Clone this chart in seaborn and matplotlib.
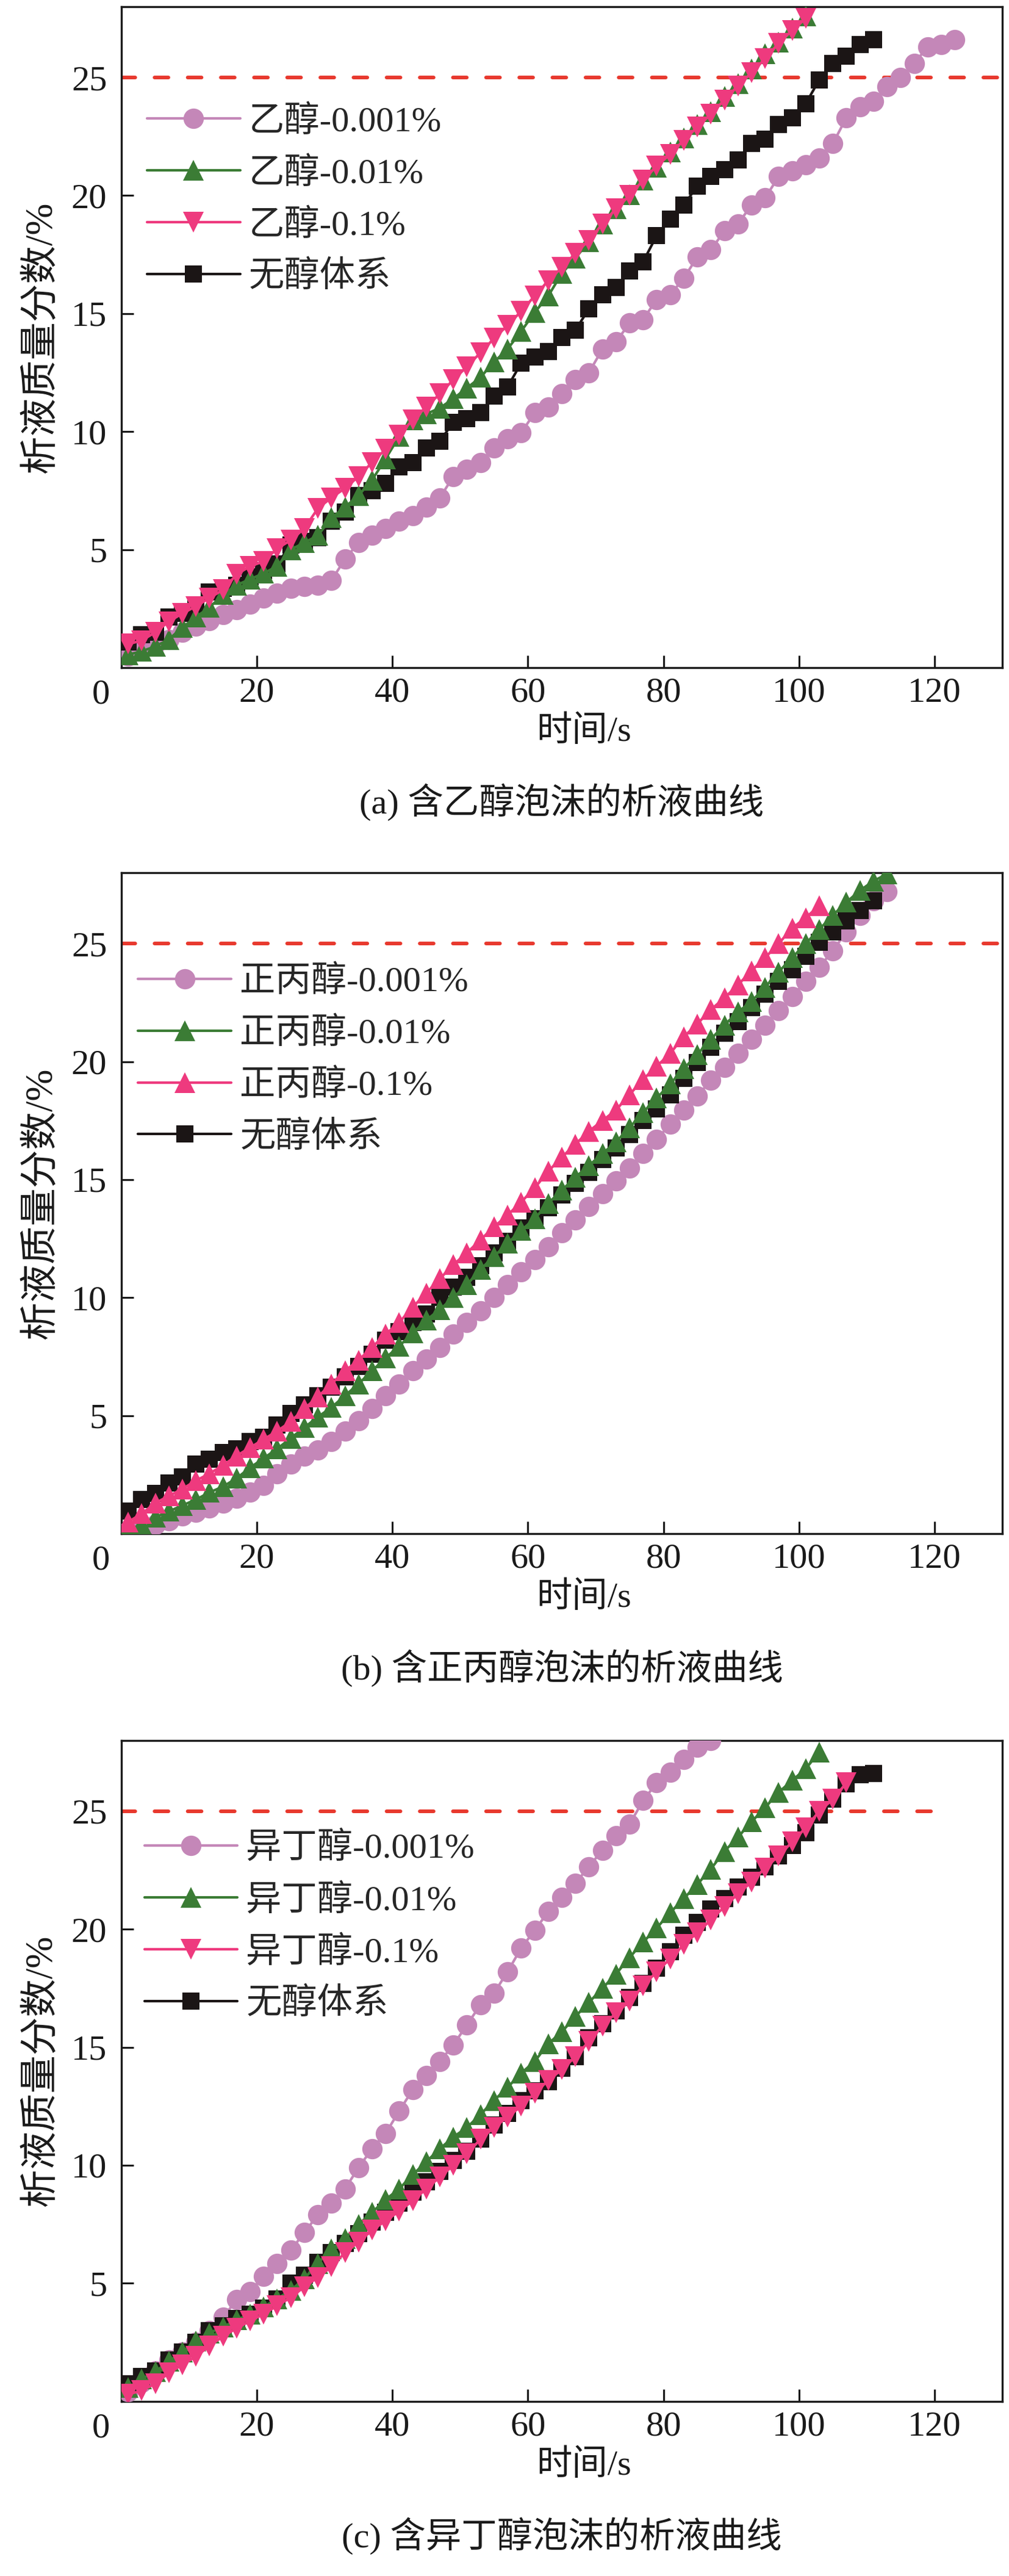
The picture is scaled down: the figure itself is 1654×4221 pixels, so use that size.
import matplotlib
matplotlib.use("Agg")
import matplotlib.pyplot as plt
import seaborn as sns

# sample times (s)
TIME = [1, 3, 5, 7, 9, 11, 13, 15, 17, 19, 21, 23, 25, 27, 29, 31, 33, 35, 37, 39,
        41, 43, 45, 47, 49, 51, 53, 55, 57, 59, 61, 63, 65, 67, 69, 71, 73, 75, 77, 79,
        81, 83, 85, 87, 89, 91, 93, 95, 97, 99, 101, 103, 105, 107, 109, 111, 113, 115,
        117, 119, 121, 123]

# (a) ethanol
A_0001 = [0.5, 0.75, 1.0, 1.2, 1.5, 1.75, 2.0, 2.25, 2.45, 2.7, 2.95, 3.15, 3.35, 3.45, 3.5,
          3.7, 4.6, 5.3, 5.6, 5.9, 6.2, 6.45, 6.8, 7.2, 8.1, 8.4, 8.7, 9.3, 9.7, 9.95, 10.8,
          11.05, 11.6, 12.2, 12.5, 13.5, 13.8, 14.6, 14.75, 15.6, 15.8, 16.5, 17.4, 17.7, 18.5,
          18.8, 19.6, 19.9, 20.8, 21.05, 21.3, 21.6, 22.2, 23.3, 23.75, 24.0, 24.6, 25.0, 25.6,
          26.3, 26.4, 26.6]
A_001 = [0.55, 0.7, 0.9, 1.2, 1.7, 2.15, 2.55, 3.1, 3.5, 3.75, 4.0, 4.3, 5.0, 5.3, 5.6, 6.35,
         6.8, 7.3, 7.95, 8.85, 9.8, 10.5, 10.75, 11.0, 11.4, 11.85, 12.3, 12.95, 13.5, 14.25,
         15.05, 15.75, 16.7, 17.35, 18.05, 18.8, 19.45, 20.05, 20.65, 21.2, 21.85, 22.45, 23.0,
         23.55, 24.2, 24.75, 25.35, 26.0, 26.5, 27.1, 27.6]
A_01 = [1.0, 1.15, 1.5, 1.95, 2.3, 2.6, 2.95, 3.3, 3.95, 4.3, 4.5, 5.05, 5.4, 5.9, 6.75, 7.2,
        7.6, 8.1, 8.7, 9.25, 9.85, 10.5, 11.05, 11.6, 12.2, 12.75, 13.35, 13.95, 14.5, 15.1,
        15.75, 16.4, 16.95, 17.55, 18.1, 18.8, 19.45, 20.0, 20.65, 21.25, 21.75, 22.35, 22.9,
        23.45, 24.05, 24.65, 25.2, 25.8, 26.45, 27.0, 27.5]
A_NONE = [1.1, 1.4, 1.5, 2.15, 2.3, 2.5, 3.2, 3.35, 3.5, 3.85, 4.1, 4.4, 5.2, 5.35, 5.5, 6.2,
          6.6, 7.3, 7.5, 7.8, 8.5, 8.7, 9.3, 9.6, 10.4, 10.55, 10.8, 11.5, 11.9, 12.9, 13.15,
          13.4, 14.0, 14.3, 15.2, 15.8, 16.1, 16.8, 17.2, 18.3, 19.0, 19.6, 20.4, 20.8, 21.1,
          21.5, 22.2, 22.4, 23.0, 23.3, 23.9, 24.9, 25.6, 25.9, 26.4, 26.6]

# (b) n-propanol
B_0001 = [0.1, 0.2, 0.4, 0.55, 0.75, 0.9, 1.1, 1.3, 1.5, 1.75, 2.05, 2.55, 2.95, 3.3, 3.55,
          3.9, 4.35, 4.8, 5.3, 5.85, 6.35, 6.9, 7.4, 7.9, 8.45, 8.95, 9.45, 10.0, 10.55, 11.1,
          11.6, 12.15, 12.75, 13.3, 13.85, 14.4, 14.95, 15.5, 16.1, 16.7, 17.35, 17.95, 18.55,
          19.2, 19.75, 20.35, 20.95, 21.55, 22.15, 22.75, 23.4, 24.0, 24.7, 25.5, 26.2, 26.8, 27.2]
B_001 = [0.15, 0.4, 0.7, 0.95, 1.2, 1.45, 1.75, 2.0, 2.35, 2.8, 3.2, 3.6, 4.05, 4.5, 4.95,
         5.35, 5.85, 6.35, 6.9, 7.45, 7.95, 8.5, 9.05, 9.5, 10.0, 10.55, 11.2, 11.75, 12.3,
         12.85, 13.35, 14.0, 14.55, 15.1, 15.6, 16.1, 16.6, 17.2, 17.85, 18.45, 19.05, 19.7,
         20.3, 20.95, 21.55, 22.1, 22.55, 23.15, 23.8, 24.4, 25.0, 25.6, 26.2, 26.75, 27.25,
         27.65, 27.95]
B_01 = [0.5, 0.85, 1.3, 1.6, 1.9, 2.25, 2.55, 2.9, 3.3, 3.65, 4.0, 4.35, 4.75, 5.3, 5.8, 6.35,
        6.9, 7.35, 7.9, 8.45, 8.95, 9.6, 10.2, 10.8, 11.4, 11.9, 12.45, 13.0, 13.5, 14.05,
        14.65, 15.35, 15.95, 16.5, 17.05, 17.5, 17.95, 18.6, 19.25, 19.8, 20.35, 21.05, 21.6,
        22.2, 22.7, 23.25, 23.85, 24.4, 25.0, 25.65, 26.1, 26.6]
B_NONE = [0.95, 1.45, 1.7, 2.15, 2.4, 2.95, 3.15, 3.45, 3.6, 3.9, 4.1, 4.6, 5.1, 5.45, 5.85,
          6.2, 6.65, 7.1, 7.6, 8.2, 8.55, 8.95, 9.3, 10.0, 10.45, 10.85, 11.35, 11.9, 12.4,
          12.95, 13.35, 13.8, 14.35, 14.85, 15.3, 15.85, 16.35, 16.9, 17.5, 18.0, 18.6, 19.3,
          19.95, 20.6, 21.2, 21.7, 22.3, 22.85, 23.4, 23.9, 24.45, 25.05, 25.5, 25.95, 26.4, 26.8]

# (c) isobutanol
C_0001 = [0.4, 0.8, 1.3, 1.75, 2.1, 2.5, 3.0, 3.55, 4.3, 4.65, 5.3, 5.85, 6.4, 7.15, 7.9, 8.4,
          9.0, 9.9, 10.7, 11.35, 12.3, 13.2, 13.8, 14.4, 15.1, 15.95, 16.8, 17.3, 18.2, 19.2,
          19.95, 20.75, 21.35, 21.95, 22.65, 23.35, 23.95, 24.45, 25.45, 26.2, 26.65, 27.2,
          27.7, 28.0]
C_001 = [0.6, 0.95, 1.25, 1.7, 2.1, 2.55, 2.9, 3.15, 3.45, 3.7, 4.0, 4.35, 4.7, 5.2, 5.85,
         6.45, 6.9, 7.5, 8.0, 8.55, 9.0, 9.6, 10.15, 10.7, 11.2, 11.6, 12.15, 12.75, 13.3, 13.9,
         14.4, 15.15, 15.65, 16.3, 16.9, 17.5, 18.1, 18.8, 19.45, 20.05, 20.7, 21.3, 21.9,
         22.55, 23.3, 23.9, 24.55, 25.15, 25.8, 26.3, 26.8, 27.5]
C_01 = [0.3, 0.45, 0.75, 1.2, 1.55, 1.9, 2.35, 2.75, 3.1, 3.4, 3.7, 4.05, 4.4, 4.85, 5.25,
        5.7, 6.3, 6.75, 7.25, 7.65, 8.05, 8.5, 9.0, 9.5, 10.0, 10.5, 11.1, 11.6, 12.05, 12.5,
        13.05, 13.6, 14.05, 14.6, 15.25, 15.9, 16.45, 16.95, 17.6, 18.2, 18.75, 19.35, 19.85,
        20.4, 20.95, 21.5, 22.0, 22.6, 23.1, 23.7, 24.3, 25.0, 25.5, 26.2]
C_NONE = [0.75, 1.05, 1.3, 1.75, 2.1, 2.5, 3.0, 3.2, 3.5, 3.7, 3.95, 4.35, 5.0, 5.35, 5.9,
          6.3, 6.7, 7.1, 7.6, 8.0, 8.4, 8.85, 9.3, 9.75, 10.2, 10.6, 11.1, 11.7, 12.2, 12.75,
          13.15, 13.55, 14.1, 14.6, 15.4, 16.0, 16.55, 17.1, 17.7, 18.35, 19.05, 19.75, 20.3,
          20.85, 21.3, 21.8, 22.2, 22.65, 23.1, 23.55, 24.1, 24.85, 25.5, 26.15, 26.55, 26.6]

ALCOHOLS = ["乙醇", "正丙醇", "异丁醇"]
CONCS = ["-0.001%", "-0.01%", "-0.1%"]
NONE_LABEL = "无醇体系"
CAPTIONS = ["(a) 含乙醇泡沫的析液曲线", "(b) 含正丙醇泡沫的析液曲线", "(c) 含异丁醇泡沫的析液曲线"]
PANELS = [[A_0001, A_001, A_01, A_NONE],
          [B_0001, B_001, B_01, B_NONE],
          [C_0001, C_001, C_01, C_NONE]]
PINK_MARKER = ["v", "^", "v"]
REF_LEVEL = 25
REF_END = [130, 130, 120]

COLORS = ["#c487b8", "#3b7c35", "#ee3a7e", "#1b1515"]
SIZES = [24, 24, 24, 20]
ZORDERS = [3, 5, 6, 4]

sns.set_style("ticks")
plt.rcParams["font.family"] = ["Liberation Serif", "Noto Sans CJK SC"]
plt.rcParams["axes.unicode_minus"] = False
FS = 42
INK = "#1a1a1a"

fig = plt.figure(figsize=(16.54, 42.21), dpi=100)
bottoms = [0.7408, 0.4046, 0.0678]
legend_x = [0.029, 0.019, 0.026]
legend_y = [0.851, 0.860, 0.862]

for i in range(3):
    ax = fig.add_axes([0.1203, bottoms[i], 0.8730, 0.2566])
    ax.axhline(REF_LEVEL, xmin=0, xmax=REF_END[i] / 130, color="#e8392e", lw=4.3,
               dashes=(3.8, 5.3), dash_capstyle="round", zorder=1)
    markers = ["o", "^", PINK_MARKER[i], "s"]
    labels = [ALCOHOLS[i] + c for c in CONCS] + [NONE_LABEL]
    handles = []
    for k, y in enumerate(PANELS[i]):
        sns.lineplot(x=TIME[:len(y)], y=y, ax=ax, color=COLORS[k], marker=markers[k],
                     markersize=SIZES[k], markeredgewidth=0, linewidth=3,
                     zorder=ZORDERS[k], label=labels[k])
        handles.append(ax.lines[-1])

    ax.set_xlim(0, 130)
    ax.set_ylim(0, 28)
    ax.set_xticks([20, 40, 60, 80, 100, 120])
    ax.set_yticks([5, 10, 15, 20, 25])
    ax.tick_params(axis="both", direction="in", length=14.4, width=2.2, color=INK,
                   labelsize=FS, labelcolor=INK)
    ax.tick_params(axis="x", pad=11)
    ax.tick_params(axis="y", pad=17)
    for s in ax.spines.values():
        s.set_linewidth(2.4)
        s.set_color(INK)
    # the origin label sits left of the corner, as in the original
    ax.text(-0.023, -0.041, "0", transform=ax.transAxes, ha="center", va="center",
            fontsize=FS, color=INK)

    ax.set_xlabel("时间/s", fontsize=FS, color=INK, va="center")
    ax.xaxis.set_label_coords(0.525, -0.097)
    ax.set_ylabel("析液质量分数/%", fontsize=45, color=INK)
    ax.yaxis.set_label_coords(-0.070, 0.5)
    ax.text(0.5, -0.203, CAPTIONS[i], transform=ax.transAxes, ha="center", va="center",
            fontsize=FS, color=INK)

    ax.legend(handles=handles, labels=labels, loc="upper left",
              bbox_to_anchor=(legend_x[i], legend_y[i]), frameon=False, fontsize=FS,
              borderpad=0, borderaxespad=0, handlelength=2.62, handletextpad=0.24,
              labelspacing=0.52, numpoints=1)

fig.savefig("out.png", dpi=100)
